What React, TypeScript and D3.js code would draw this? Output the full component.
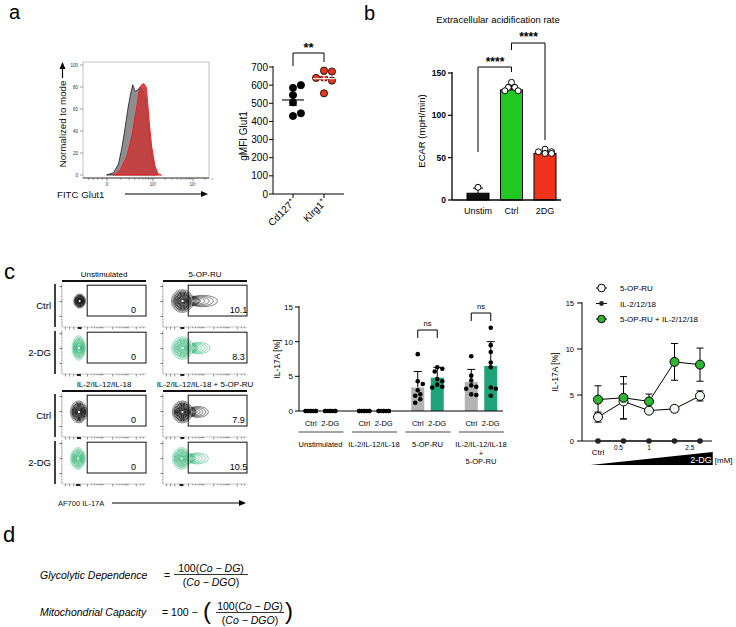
import React from "react";
import * as d3 from "d3";

const FONT = "Arial, 'Liberation Sans', Helvetica, sans-serif";

// ---------- Panel a: Glut1 histogram ----------
const histYTicks = [0, 20, 40, 60, 80, 100];
const histXTickValues = [0, 1, 2];
const histXTickLabels = ["0", "10³", "10⁴"];
const cd127HistX = [-0.01, 0.14, 0.25, 0.32, 0.39, 0.45, 0.5, 0.56, 0.61, 0.66, 0.72, 0.77, 0.83, 0.9, 0.97, 1.05, 1.11];
const cd127HistY = [0, 2, 10, 24, 42, 59, 71, 82, 76, 77, 80, 78, 71, 44, 17, 3, 0];
const klrg1HistX = [0.14, 0.28, 0.43, 0.54, 0.61, 0.66, 0.7, 0.75, 0.8, 0.85, 0.88, 0.92, 0.97, 1.05, 1.13, 1.21];
const klrg1HistY = [0, 4, 17, 35, 53, 65, 77, 82, 83, 80, 68, 47, 26, 8, 1, 0];

// ---------- Panel a: gMFI scatter ----------
const glutGroups = ["Cd127", "Klrg1"];
const glutCd127 = [585, 600, 545, 505, 430, 445];
const glutKlrg1 = [680, 675, 640, 640, 625, 555];
const glutTicks = [0, 100, 200, 300, 400, 500, 600, 700];

// ---------- Panel b: ECAR ----------
const ecarCats = ["Unstim", "Ctrl", "2DG"];
const ecarMeans = [8, 130, 55];
const ecarSd = [6, 6, 2];
const ecarPoints = [[15], [139, 133, 133, 129, 129], [60, 57, 57, 55, 55]];
const ecarTicks = [0, 50, 100, 150];
const ecarColors = ["#111111", "#22c822", "#f0321a"];

// ---------- Panel c: flow plots ----------
const flowConditions = ["Unstimulated", "5-OP-RU", "IL-2/IL-12/IL-18", "IL-2/IL-12/IL-18 + 5-OP-RU"];
const flowRowNames = ["Ctrl", "2-DG"];
const flowPct = [[0, 0], [10.1, 8.3], [0, 0], [7.9, 10.5]];
const flowCenterX = [[21, 20], [23, 23], [20, 19], [23, 22]];
const flowCenterY = [[59, 59], [59, 59], [57, 58], [57, 58]];
const flowSpreadX = [[7, 8], [13, 13], [10, 9], [12, 11]];
const flowSpreadY = [[16, 28], [26, 26], [25, 25], [25, 25]];
const flowTail = [[0, 0], [65, 56], [0, 0], [54, 54]];
const contourLevels = [1, 0.9, 0.8, 0.7, 0.61, 0.52, 0.44, 0.36, 0.28, 0.2, 0.13];

// ---------- Panel c: IL-17A bars ----------
const il17GroupLines = [["Unstimulated"], ["IL-2/IL-12/IL-18"], ["5-OP-RU"], ["IL-2/IL-12/IL-18", "+", "5-OP-RU"]];
const il17Groups = ["Unstimulated", "IL-2/IL-12/IL-18", "5-OP-RU", "IL-2/IL-12/IL-18 + 5-OP-RU"];
const il17Conds = ["Ctrl", "2-DG"];
const il17CtrlPts = [
  [0, 0, 0, 0, 0, 0, 0, 0],
  [0, 0, 0, 0, 0, 0, 0, 0],
  [8.2, 4.3, 3.9, 3.0, 2.4, 2.2, 1.7, 1.2],
  [7.9, 5.1, 4.4, 3.7, 3.5, 3.2, 2.4, 2.3],
];
const il17DgPts = [
  [0, 0, 0, 0, 0, 0, 0, 0],
  [0, 0, 0, 0, 0, 0, 0, 0],
  [6.3, 6.1, 5.7, 4.6, 4.3, 3.8, 3.5, 3.4],
  [12.0, 9.5, 8.5, 7.0, 6.3, 3.4, 3.2, 2.2],
];
const il17CtrlMean = [0, 0, 3.4, 4.2];
const il17CtrlSd = [0, 0, 2.3, 1.8];
const il17DgMean = [0, 0, 4.8, 6.5];
const il17DgSd = [0, 0, 1.5, 3.5];
const il17Ticks = [0, 5, 10, 15];

// ---------- Panel c: dose response ----------
const doseIndex = [0, 1, 2, 3, 4];
const doseLabels = ["Ctrl", "0.5", "1", "2.5"];
const doseLabelPos = [0, 0.8, 2, 3.6];
const opruMean = [2.6, 4.3, 3.3, 3.5, 4.9];
const opruErr = [0.55, 1.9, 0.3, 0.35, 0.55];
const ilMean = [0, 0, 0, 0, 0];
const comboMean = [4.5, 4.7, 4.3, 8.6, 8.3];
const comboErr = [1.5, 2.3, 0.8, 2.0, 1.8];
const lineTicks = [0, 5, 10, 15];
const legendNames = ["5-OP-RU", "IL-2/12/18", "5-OP-RU  + IL-2/12/18"];

// ---------- helpers ----------
function swarm(ys: number[], r: number, maxOff: number): number[] {
  const placed: { x: number; y: number }[] = [];
  const out: number[] = [];
  const step = r * 1.1;
  ys.forEach((y) => {
    const cands = [0];
    for (let k = 1; k * step <= maxOff + 1e-6; k++) cands.push(k * step, -k * step);
    let best = 0;
    let bestOv = Infinity;
    for (const c of cands) {
      let ov = 0;
      for (const p of placed) {
        const d = Math.hypot(p.x - c, p.y - y);
        if (d < 2 * r * 0.95) ov += 2 * r - d;
      }
      if (ov === 0) {
        best = c;
        bestOv = 0;
        break;
      }
      if (ov < bestOv) {
        bestOv = ov;
        best = c;
      }
    }
    placed.push({ x: best, y });
    out.push(best);
  });
  return out;
}

function ArrowH({ x1, x2, y }: { x1: number; x2: number; y: number }) {
  return (
    <g>
      <line x1={x1} x2={x2 - 5} y1={y} y2={y} stroke="#000" strokeWidth={1.2} />
      <polygon points={`${x2},${y} ${x2 - 7},${y - 3} ${x2 - 7},${y + 3}`} fill="#000" />
    </g>
  );
}

// ---------- Panel a ----------
function PanelAHist() {
  const x = d3.scaleLinear().domain([-0.52, 0, 1, 2, 2.4]).range([83, 107, 153, 193, 209]);
  const y = d3.scaleLinear().domain([0, 100]).range([175, 65]);
  const area = d3
    .area<[number, number]>()
    .x((d) => x(d[0]))
    .y0(y(0))
    .y1((d) => y(d[1]));
  const grayPts = cd127HistX.map((v, i) => [v, cd127HistY[i]] as [number, number]);
  const redPts = klrg1HistX.map((v, i) => [v, klrg1HistY[i]] as [number, number]);
  const minor: number[] = [-0.1, -0.2, -0.3, -0.4];
  [0, 1].forEach((dec) => {
    for (let k = 2; k < 10; k++) minor.push(dec + Math.log10(k));
  });
  [2, 3].forEach((k) => minor.push(2 + Math.log10(k)));
  const yb = 178;
  return (
    <g>
      <text x={9} y={19} fontSize={20}>a</text>
      <rect x={83} y={62} width={126} height={116} fill="none" stroke="#9a9a9a" strokeWidth={0.6} />
      <path d={area(grayPts) || ""} fill="#8e8e8e" stroke="#1a1a1a" strokeWidth={0.8} />
      <path d={area(redPts) || ""} fill="#c53a3a" fillOpacity={0.9} stroke="#e8202a" strokeWidth={1} />
      <line x1={83} x2={209} y1={yb} y2={yb} stroke="#222" strokeWidth={0.8} />
      {histYTicks.map((t) => (
        <g key={t}>
          <line x1={80} x2={83} y1={y(t)} y2={y(t)} stroke="#444" strokeWidth={0.5} />
          <text x={78} y={y(t) + 1.5} fontSize={4.5} textAnchor="end" fill="#333">
            {t}
          </text>
        </g>
      ))}
      {histXTickValues.map((t, i) => (
        <g key={t}>
          <line x1={x(t)} x2={x(t)} y1={yb} y2={yb + 3} stroke="#333" strokeWidth={0.6} />
          <text x={x(t)} y={yb + 8} fontSize={4.5} textAnchor="middle" fill="#333">
            {histXTickLabels[i]}
          </text>
        </g>
      ))}
      {minor.map((t, i) => (
        <line key={i} x1={x(t)} x2={x(t)} y1={yb} y2={yb + 1.8} stroke="#333" strokeWidth={0.5} />
      ))}
      <text
        transform={`translate(66,124) rotate(-90)`}
        fontSize={9.7}
        textAnchor="middle"
        fill="#111"
      >
        Normalized to mode
      </text>
      <line x1={62.5} x2={62.5} y1={78} y2={68} stroke="#000" strokeWidth={1.2} />
      <polygon points={`62.5,62 59.5,69 65.5,69`} fill="#000" />
      <text x={57} y={197.5} fontSize={9.7} fill="#111">
        FITC Glut1
      </text>
      <ArrowH x1={125} x2={208} y={194} />
    </g>
  );
}

function PanelAScatter() {
  const y = d3.scaleLinear().domain([0, 700]).range([194, 67]);
  const x = d3.scalePoint().domain(glutGroups).range([293, 324]);
  const groups = [glutCd127, glutKlrg1];
  const fills = ["#000000", "#e8361e"];
  return (
    <g>
      <line x1={273} x2={273} y1={194} y2={66} stroke="#000" strokeWidth={1} />
      <line x1={273} x2={344} y1={194} y2={194} stroke="#000" strokeWidth={1} />
      {glutTicks.map((t) => (
        <g key={t}>
          <line x1={269} x2={273} y1={y(t)} y2={y(t)} stroke="#000" />
          <text x={268} y={y(t) + 3.5} fontSize={10} textAnchor="end">
            {t}
          </text>
        </g>
      ))}
      {glutGroups.map((g, gi) => {
        const cx = x(g) as number;
        const vals = groups[gi];
        const ys = vals.map((v) => y(v));
        const offs = swarm(ys, 3.6, 9);
        const m = d3.mean(vals) as number;
        const sem = (d3.deviation(vals) as number) / Math.sqrt(vals.length);
        return (
          <g key={g}>
            <line x1={cx} x2={cx} y1={194} y2={198} stroke="#000" />
            {vals.map((v, i) => (
              <circle key={i} cx={cx + offs[i]} cy={ys[i]} r={3.6} fill={fills[gi]} stroke="#000" strokeWidth={0.8} />
            ))}
            <line x1={cx - 11} x2={cx + 11} y1={y(m)} y2={y(m)} stroke={gi === 0 ? "#000" : "#fff"} strokeWidth={1.1} />
            <line x1={cx} x2={cx} y1={y(m - sem)} y2={y(m + sem)} stroke={gi === 0 ? "#000" : "#fff"} strokeWidth={1.1} />
            <line x1={cx - 4} x2={cx + 4} y1={y(m + sem)} y2={y(m + sem)} stroke={gi === 0 ? "#000" : "#fff"} strokeWidth={1.1} />
            <line x1={cx - 4} x2={cx + 4} y1={y(m - sem)} y2={y(m - sem)} stroke={gi === 0 ? "#000" : "#fff"} strokeWidth={1.1} />
            <text transform={`translate(${cx + 3},${203}) rotate(-45)`} fontSize={10} textAnchor="end">
              {g}
              <tspan dy={-4} fontSize={7}>
                +
              </tspan>
            </text>
          </g>
        );
      })}
      <path d={`M${x("Cd127")},66 V53 H${x("Klrg1")} V62`} fill="none" stroke="#000" strokeWidth={1} />
      <text x={308.5} y={52} fontSize={13} fontWeight="bold" textAnchor="middle">
        **
      </text>
      <text transform={`translate(247,136) rotate(-90)`} fontSize={10} textAnchor="middle">
        gMFI Glut1
      </text>
    </g>
  );
}

// ---------- Panel b ----------
function PanelB() {
  const y = d3.scaleLinear().domain([0, 150]).range([200, 73]);
  const x = d3.scalePoint().domain(ecarCats).range([478, 545]);
  const bw = 22;
  return (
    <g>
      <text x={364} y={20} fontSize={20}>b</text>
      <text x={498} y={23} fontSize={9.5} textAnchor="middle">
        Extracellular acidification rate
      </text>
      {ecarCats.map((c, i) => {
        const cx = x(c) as number;
        const ys = ecarPoints[i].map((v) => y(v));
        const offs = swarm(ys, 3, 8);
        return (
          <g key={c}>
            <rect x={cx - bw / 2} y={y(ecarMeans[i])} width={bw} height={y(0) - y(ecarMeans[i])} fill={ecarColors[i]} stroke="#000" strokeWidth={1} />
            <line x1={cx} x2={cx} y1={y(ecarMeans[i])} y2={y(ecarMeans[i] + ecarSd[i])} stroke="#000" strokeWidth={1} />
            <line x1={cx - 5} x2={cx + 5} y1={y(ecarMeans[i] + ecarSd[i])} y2={y(ecarMeans[i] + ecarSd[i])} stroke="#000" strokeWidth={1} />
            {ecarPoints[i].map((v, j) => (
              <circle key={j} cx={cx + offs[j]} cy={ys[j]} r={3} fill="#fff" stroke="#000" strokeWidth={1} />
            ))}
            <text x={cx} y={214} fontSize={9} textAnchor="middle">
              {c}
            </text>
          </g>
        );
      })}
      <line x1={452} x2={452} y1={200} y2={72} stroke="#000" strokeWidth={1.3} />
      <line x1={452} x2={561} y1={200} y2={200} stroke="#000" strokeWidth={1.3} />
      {ecarTicks.map((t) => (
        <g key={t}>
          <line x1={448} x2={452} y1={y(t)} y2={y(t)} stroke="#000" strokeWidth={1.2} />
          <text x={446} y={y(t) + 3} fontSize={8.5} fontWeight="bold" textAnchor="end">
            {t}
          </text>
        </g>
      ))}
      <text transform={`translate(425,131) rotate(-90)`} fontSize={9.5} textAnchor="middle">
        ECAR (mpH/min)
      </text>
      <path d={`M${x("Unstim")},152 V67 H${x("Ctrl")} V72`} fill="none" stroke="#000" strokeWidth={1} />
      <text x={495} y={66} fontSize={12} fontWeight="bold" textAnchor="middle">
        ****
      </text>
      <path d={`M${x("Ctrl")},50 V43 H${x("2DG")} V140`} fill="none" stroke="#000" strokeWidth={1} />
      <text x={528.5} y={41} fontSize={12} fontWeight="bold" textAnchor="middle">
        ****
      </text>
    </g>
  );
}

// ---------- Panel c: flow ----------
const FLOW_COL_X = [62, 163];
const FLOW_W = 84;
const FLOW_H = 44;
const FLOW_GROUP_Y = [283, 393];
const FLOW_ROW_DY = 47;

function FlowPlot({ ci, ri }: { ci: number; ri: number }) {
  const col = ci % 2;
  const grp = Math.floor(ci / 2);
  const x0 = FLOW_COL_X[col];
  const y0 = FLOW_GROUP_Y[grp] + ri * FLOW_ROW_DY;
  const sx = d3.scaleLinear().domain([0, 100]).range([x0, x0 + FLOW_W]);
  const sy = d3.scaleLinear().domain([0, 100]).range([y0 + FLOW_H, y0]);
  const color = ri === 0 ? "#111" : "#27b070";
  const cx = sx(flowCenterX[ci][ri]);
  const cy = sy(flowCenterY[ci][ri]);
  const rx = sx(flowSpreadX[ci][ri]) - sx(0);
  const ry = sy(0) - sy(flowSpreadY[ci][ri]);
  const tail = flowTail[ci][ri];
  const tailPx = tail > 0 ? sx(tail) : 0;
  const loops = [0, 1, 2, 3, 4];
  const xb = y0 + FLOW_H;
  const bottomTicks: number[] = [4, 9, 14, 22];
  [22, 52, 80].forEach((s) => {
    for (let k = 2; k < 10; k++) {
      const v = s + 28 * Math.log10(k);
      if (v < 99) bottomTicks.push(v);
    }
  });
  const leftMajor = [24, 58, 92];
  const leftMinor = d3.range(4, 100, 6.5);
  return (
    <g>
      <line x1={x0} x2={x0} y1={y0} y2={xb} stroke="#888" strokeWidth={0.5} />
      <line x1={x0} x2={x0 + FLOW_W} y1={xb} y2={xb} stroke="#888" strokeWidth={0.5} />
      {leftMajor.map((t) => (
        <line key={t} x1={x0 - 2.5} x2={x0} y1={sy(t)} y2={sy(t)} stroke="#333" strokeWidth={0.7} />
      ))}
      {leftMinor.map((t, i) => (
        <line key={i} x1={x0 - 1} x2={x0} y1={sy(t)} y2={sy(t)} stroke="#777" strokeWidth={0.5} />
      ))}
      {bottomTicks.map((t, i) => (
        <line key={i} x1={sx(t)} x2={sx(t)} y1={xb} y2={xb + (i < 4 || (i - 4) % 8 === 0 ? 2.5 : 1.3)} stroke="#444" strokeWidth={0.6} />
      ))}
      <rect x={sx(flowCenterX[ci][ri]) - 2} y={xb} width={4} height={2} fill="#222" />
      {tail > 0 &&
        loops.map((k) => {
          const left = cx + rx * 0.5;
          const right = cx + rx + (tailPx - cx - rx) * (1 - k * 0.17);
          const r2 = ry * 0.5 * (1 - k * 0.16);
          return (
            <ellipse key={"t" + k} cx={(left + right) / 2} cy={cy} rx={(right - left) / 2} ry={r2} fill="none" stroke={color} strokeWidth={0.6} strokeOpacity={0.85} />
          );
        })}
      {contourLevels.map((f, k) => (
        <ellipse
          key={k}
          cx={cx + rx * 0.06 * (1 - f)}
          cy={cy}
          rx={rx * f}
          ry={ry * f}
          fill={k === 0 ? "#fff" : "none"}
          stroke={color}
          strokeWidth={ri === 0 ? 0.9 : 0.7}
          strokeOpacity={k < 2 ? 0.55 : 1}
        />
      ))}
      {tail > 0 &&
        loops.map((k) => {
          const left = cx + rx * 0.9;
          const right = cx + rx + (tailPx - cx - rx) * (1 - k * 0.17);
          const r2 = ry * 0.5 * (1 - k * 0.16);
          return (
            <path
              key={"tt" + k}
              d={`M${left},${cy - r2 * 0.9} A${(right - left) / 2},${r2} 0 0 1 ${left},${cy + r2 * 0.9}`}
              fill="none"
              stroke={color}
              strokeWidth={0.6}
              strokeOpacity={0.85}
            />
          );
        })}
      <circle cx={cx} cy={cy} r={1} fill="#fff" />
      <rect x={sx(30)} y={sy(95)} width={sx(100) - sx(30)} height={sy(25) - sy(95)} fill="none" stroke="#111" strokeWidth={1} />
      <text x={sx(col === 0 ? 85 : 90)} y={sy(40) + 3.5} fontSize={9} textAnchor="middle">
        {flowPct[ci][ri]}
      </text>
    </g>
  );
}

function PanelCFlow() {
  return (
    <g>
      <text x={4} y={279} fontSize={22}>c</text>
      {flowConditions.map((c, ci) => {
        const col = ci % 2;
        const grp = Math.floor(ci / 2);
        const x0 = FLOW_COL_X[col];
        const hy = FLOW_GROUP_Y[grp] - 2;
        return (
          <g key={c}>
            <text x={x0 + FLOW_W / 2} y={hy - 4.5} fontSize={8} textAnchor="middle">
              {c}
            </text>
            <line x1={x0} x2={x0 + FLOW_W} y1={hy} y2={hy} stroke="#111" strokeWidth={2} />
            {flowRowNames.map((r, ri) => (
              <FlowPlot key={r} ci={ci} ri={ri} />
            ))}
          </g>
        );
      })}
      {FLOW_GROUP_Y.map((gy, gi) =>
        flowRowNames.map((r, ri) => {
          const y0 = gy + ri * FLOW_ROW_DY;
          return (
            <g key={gi + r}>
              <line x1={55} x2={55} y1={y0 + 1} y2={y0 + FLOW_H} stroke="#111" strokeWidth={1.6} />
              <text x={51} y={y0 + FLOW_H / 2 + 4} fontSize={9.5} textAnchor="end">
                {r}
              </text>
            </g>
          );
        })
      )}
      <text x={58} y={506} fontSize={7.5} fill="#111">
        AF700 IL-17A
      </text>
      <ArrowH x1={112} x2={246} y={503} />
    </g>
  );
}

// ---------- Panel c: bars ----------
function PanelCBars() {
  const y = d3.scaleLinear().domain([0, 15]).range([411, 307]);
  const gx = d3.scalePoint().domain(il17Groups).range([320.5, 481]);
  const cx = d3.scaleBand().domain(il17Conds).range([-19.5, 19.5]);
  const bw = 13;
  const colors = ["#b3b3b3", "#1fa37a"];
  const pts = [il17CtrlPts, il17DgPts];
  const means = [il17CtrlMean, il17DgMean];
  const sds = [il17CtrlSd, il17DgSd];
  return (
    <g>
      {il17Groups.map((g, gi) => {
        const gcx = gx(g) as number;
        return (
          <g key={g}>
            {il17Conds.map((c, k) => {
              const xc = gcx + (cx(c) as number) + cx.bandwidth() / 2;
              const m = means[k][gi];
              const sd = sds[k][gi];
              const ys = pts[k][gi].map((v) => y(v));
              const offs = swarm(ys, 2.3, 6);
              return (
                <g key={c}>
                  {m > 0 && <rect x={xc - bw / 2} y={y(m)} width={bw} height={y(0) - y(m)} fill={colors[k]} />}
                  {sd > 0 && (
                    <g>
                      <line x1={xc} x2={xc} y1={y(m)} y2={y(m + sd)} stroke="#000" strokeWidth={1} />
                      <line x1={xc - 4} x2={xc + 4} y1={y(m + sd)} y2={y(m + sd)} stroke="#000" strokeWidth={1} />
                    </g>
                  )}
                  {pts[k][gi].map((v, j) => (
                    <circle key={j} cx={xc + offs[j]} cy={ys[j]} r={2.3} fill="#000" />
                  ))}
                  <text x={xc} y={426} fontSize={7.5} textAnchor="middle">
                    {c}
                  </text>
                </g>
              );
            })}
            <line x1={gcx - 22} x2={gcx + 23} y1={432} y2={432} stroke="#333" strokeWidth={0.9} />
            {il17GroupLines[gi].map((ln, li) => (
              <text key={li} x={gcx} y={447 + li * 8.5} fontSize={7.5} textAnchor="middle">
                {ln}
              </text>
            ))}
          </g>
        );
      })}
      <line x1={299} x2={299} y1={411} y2={306} stroke="#000" strokeWidth={1} />
      <line x1={299} x2={503} y1={411} y2={411} stroke="#000" strokeWidth={1} />
      {il17Ticks.map((t) => (
        <g key={t}>
          <line x1={295} x2={299} y1={y(t)} y2={y(t)} stroke="#000" />
          <text x={293} y={y(t) + 3} fontSize={8} textAnchor="end">
            {t}
          </text>
        </g>
      ))}
      <text transform={`translate(280,359) rotate(-90)`} fontSize={8.5} textAnchor="middle">
        IL-17A [%]
      </text>
      {[2, 3].map((gi) => {
        const gcx = gx(il17Groups[gi]) as number;
        const a = gcx + (cx("Ctrl") as number) + cx.bandwidth() / 2;
        const b = gcx + (cx("2-DG") as number) + cx.bandwidth() / 2;
        const top = gi === 2 ? 330 : 313;
        return (
          <g key={gi}>
            <path d={`M${a},${top + 8} V${top} H${b} V${top + 8}`} fill="none" stroke="#000" strokeWidth={1} />
            <text x={(a + b) / 2} y={top - 4} fontSize={7.5} textAnchor="middle">
              ns
            </text>
          </g>
        );
      })}
    </g>
  );
}

// ---------- Panel c: dose response ----------
function PanelCLine() {
  const y = d3.scaleLinear().domain([0, 15]).range([441, 303]);
  const x = d3.scaleLinear().domain([0, 4]).range([598, 700]);
  const line = d3
    .line<number>()
    .x((_, i) => x(doseIndex[i]))
    .y((d) => y(d));
  const errBars = (means: number[], errs: number[]) =>
    means.map((m, i) => (
      <g key={i}>
        <line x1={x(doseIndex[i])} x2={x(doseIndex[i])} y1={y(m - errs[i])} y2={y(m + errs[i])} stroke="#000" strokeWidth={1} />
        <line x1={x(doseIndex[i]) - 3.5} x2={x(doseIndex[i]) + 3.5} y1={y(m + errs[i])} y2={y(m + errs[i])} stroke="#000" strokeWidth={1} />
        <line x1={x(doseIndex[i]) - 3.5} x2={x(doseIndex[i]) + 3.5} y1={y(m - errs[i])} y2={y(m - errs[i])} stroke="#000" strokeWidth={1} />
      </g>
    ));
  const styles = [
    { fill: "#eef7ee", r: 4.5 },
    { fill: "#222", r: 2.8 },
    { fill: "#2fb52f", r: 4.5 },
  ];
  return (
    <g>
      <line x1={582} x2={582} y1={441} y2={302} stroke="#000" strokeWidth={1} />
      <line x1={582} x2={712} y1={441} y2={441} stroke="#000" strokeWidth={1} />
      {lineTicks.map((t) => (
        <g key={t}>
          <line x1={577} x2={582} y1={y(t)} y2={y(t)} stroke="#000" />
          <text x={574} y={y(t) + 3} fontSize={7.5} textAnchor="end">
            {t}
          </text>
        </g>
      ))}
      <text transform={`translate(558,372) rotate(-90)`} fontSize={8.5} textAnchor="middle">
        IL-17A [%]
      </text>
      <path d={line(opruMean) || ""} fill="none" stroke="#000" strokeWidth={1} />
      <path d={line(comboMean) || ""} fill="none" stroke="#000" strokeWidth={1} />
      <path d={line(ilMean) || ""} fill="none" stroke="#000" strokeWidth={1} />
      {errBars(opruMean, opruErr)}
      {errBars(comboMean, comboErr)}
      {opruMean.map((v, i) => (
        <circle key={"o" + i} cx={x(doseIndex[i])} cy={y(v)} r={styles[0].r} fill={styles[0].fill} stroke="#000" strokeWidth={1} />
      ))}
      {comboMean.map((v, i) => (
        <circle key={"c" + i} cx={x(doseIndex[i])} cy={y(v)} r={styles[2].r} fill={styles[2].fill} stroke="#000" strokeWidth={1} />
      ))}
      {ilMean.map((v, i) => (
        <circle key={"i" + i} cx={x(doseIndex[i])} cy={y(v)} r={styles[1].r} fill={styles[1].fill} />
      ))}
      {doseLabels.map((l, i) => (
        <text key={l} x={x(doseLabelPos[i])} y={i === 0 ? 455 : 450} fontSize={i === 0 ? 8 : 6.5} textAnchor="middle">
          {l}
        </text>
      ))}
      <polygon points={`${x(-0.3)},465 ${x(4.5)},465 ${x(4.5)},452`} fill="#000" />
      <text x={x(4.5) - 1} y={463} fontSize={9} fill="#fff" textAnchor="end">
        2-DG
      </text>
      <text x={x(4.5) + 2} y={463} fontSize={8}>
        [mM]
      </text>
      {legendNames.map((n, i) => {
        const ly = 288 + i * 15.5;
        return (
          <g key={n}>
            <line x1={596} x2={607} y1={ly} y2={ly} stroke="#000" strokeWidth={1} />
            <circle cx={601.5} cy={ly} r={styles[i].r * 0.85} fill={styles[i].fill} stroke={i === 1 ? "none" : "#000"} strokeWidth={1} />
            <text x={620} y={ly + 3} fontSize={8}>
              {n}
            </text>
          </g>
        );
      })}
    </g>
  );
}

// ---------- Panel d ----------
function Frac({ cx, yLine, x1, x2 }: { cx: number; yLine: number; x1: number; x2: number }) {
  return (
    <g fontSize={10.5}>
      <text x={cx} y={yLine - 3} textAnchor="middle">
        100(<tspan fontStyle="italic">Co</tspan> − <tspan fontStyle="italic">DG</tspan>)
      </text>
      <line x1={x1} x2={x2} y1={yLine} y2={yLine} stroke="#000" strokeWidth={0.8} />
      <text x={cx} y={yLine + 11} textAnchor="middle">
        (<tspan fontStyle="italic">Co</tspan> − <tspan fontStyle="italic">DGO</tspan>)
      </text>
    </g>
  );
}

function PanelD() {
  return (
    <g>
      <text x={3} y={542} fontSize={22}>d</text>
      <text x={40} y={579} fontSize={10.5} fontStyle="italic">
        Glycolytic Dependence
      </text>
      <text x={164} y={579} fontSize={10.5}>
        =
      </text>
      <Frac cx={211} yLine={574.5} x1={174} x2={248} />
      <text x={40} y={616} fontSize={10.5} fontStyle="italic">
        Mitochondrial Capacity
      </text>
      <text x={162} y={616} fontSize={10.5}>
        = 100 −
      </text>
      <text x={203} y={619} fontSize={24} fontWeight="lighter">
        (
      </text>
      <Frac cx={250} yLine={612.5} x1={216} x2={284} />
      <text x={285} y={619} fontSize={24} fontWeight="lighter">
        )
      </text>
    </g>
  );
}

export default function App() {
  return (
    <svg width={736} height={627} style={{ position: "absolute", left: 0, top: 0 }} fontFamily={FONT}>
      <rect width={736} height={627} fill="#fff" />
      <PanelAHist />
      <PanelAScatter />
      <PanelB />
      <PanelCFlow />
      <PanelCBars />
      <PanelCLine />
      <PanelD />
    </svg>
  );
}
